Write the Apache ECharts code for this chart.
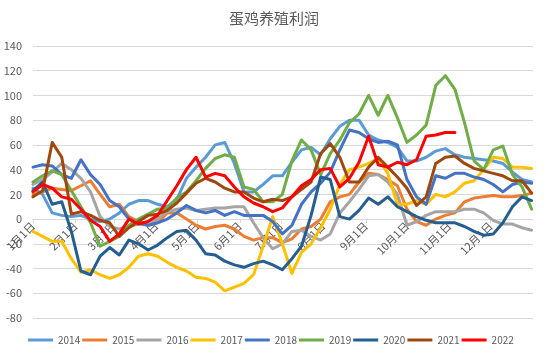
<!DOCTYPE html>
<html><head><meta charset="utf-8">
<script src="https://cdn.jsdelivr.net/npm/echarts@6/dist/echarts.min.js"></script>
<style>html,body{margin:0;padding:0;background:#fff}#c{width:548px;height:356px}</style>
</head><body><div id="c"></div>
<script>
// day-of-year of each weekly observation
const days = [0,7,14,21,28,35,42,49,56,63,70,77,84,91,98,105,112,119,126,133,140,147,154,161,168,175,182,189,196,203,210,217,224,231,238,245,252,259,266,273,280,287,294,301,308,315,322,329,336,343,350,357,364];
const monthDays = [0,31,59,90,120,151,181,212,243,273,304,334];
const monthLabels = ['1月1日','2月1日','3月1日','4月1日','5月1日','6月1日','7月1日','8月1日','9月1日','10月1日','11月1日','12月1日'];
const yTicks = {min:-80, max:140, step:20};
const years = ['2014','2015','2016','2017','2018','2019','2020','2021','2022'];

const y2014 = [25,20,5,3,2,3,0,-2,0,5,12,15,15,12,10,16,33,42,50,60,62,45,22,22,28,35,35,46,56,58,52,65,75,80,80,68,64,62,58,47,47,50,55,57,52,50,49,48,47,45,38,32,30];
const y2015 = [20,22,25,24,23,27,31,20,10,12,2,-2,-5,-3,5,5,0,-5,-8,-6,-5,-8,-14,-17,-15,-15,-19,-16,-8,-6,0,14,18,20,30,37,36,32,27,8,-2,-5,0,3,5,14,17,18,19,18,18,19,21];
const y2016 = [28,32,38,45,40,33,22,2,-6,-8,-6,-4,-5,0,6,8,9,7,8,9,9,10,10,-3,-15,-24,-20,-10,-9,-14,-17,-12,5,14,24,35,36,30,20,-5,-2,3,6,6,6,8,8,5,-1,-4,-4,-7,-9];
const y2017 = [-10,-14,-18,-18,-32,-43,-41,-45,-48,-45,-39,-30,-28,-30,-35,-39,-42,-47,-48,-51,-58,-55,-52,-45,-22,2,-20,-44,-27,-20,-7,8,28,40,42,45,49,37,12,12,15,12,20,18,22,29,31,40,50,49,42,42,41];
const y2018 = [42,44,43,36,33,48,36,28,15,10,0,-3,-5,-3,0,5,11,7,5,7,3,6,3,3,3,-2,-12,-5,12,22,29,38,56,72,70,65,62,63,60,32,18,12,35,33,37,37,34,32,28,22,28,30,29];
const y2019 = [30,35,39,36,23,10,-3,-22,-18,-14,-5,0,4,8,9,17,22,31,41,49,52,50,26,24,14,14,20,47,64,56,36,53,64,78,85,100,84,100,82,62,68,76,108,116,105,78,47,40,56,59,36,26,8];
const y2020 = [23,30,12,14,-10,-42,-45,-30,-23,-29,-17,-20,-25,-21,-15,-10,-9,-17,-28,-29,-34,-37,-39,-36,-34,-37,-41,-32,-22,3,34,32,2,0,7,17,12,18,10,6,2,-1,-3,-3,-3,-6,-10,-13,-12,-3,10,18,15];
const y2021 = [18,23,62,50,4,6,3,-1,-3,-14,-7,-2,3,4,7,13,21,29,33,30,25,22,22,17,14,16,15,18,24,30,53,61,50,30,30,42,50,42,34,25,11,18,45,50,51,45,41,39,37,35,31,31,21];
const y2022 = [22,28,25,18,16,8,-1,-6,-18,-12,0,-4,-2,3,15,27,40,50,34,37,35,26,18,13,10,6,9,18,27,32,40,41,26,33,46,67,44,42,46,44,48,67,68,70,70];

const values = [y2014,y2015,y2016,y2017,y2018,y2019,y2020,y2021,y2022];
const colors = ['#5B9BD5','#ED7D31','#A5A5A5','#FFC000','#4472C4','#70AD47','#255E91','#9E480E','#FF0000'];

const gridTop = 46, gridBottom = 38, H = 356;
const plotH = H - gridTop - gridBottom;
// shift the date axis up so it sits on the zero line
const zeroOffset = -plotH * (0 - yTicks.min) / (yTicks.max - yTicks.min);

const chart = echarts.init(document.getElementById('c'), null, {renderer:'canvas'});
const font = '"Noto Sans CJK SC","Noto Sans",sans-serif';
chart.setOption({
  animation:false,
  backgroundColor:'#fff',
  textStyle:{fontFamily:font},
  title:{text:'蛋鸡养殖利润', left:'center', top:6,
    textStyle:{fontSize:15, fontWeight:'normal', color:'#595959', fontFamily:font}},
  legend:{bottom:6, left:23, icon:'rect', itemWidth:25, itemHeight:3, itemGap:2,
    textStyle:{color:'#595959', fontSize:10, fontFamily:font}, data:years},
  grid:{left:33, right:15, top:gridTop, bottom:gridBottom, containLabel:false},
  xAxis:{type:'value', min:0, max:365, position:'bottom', offset:zeroOffset, z:0,
    axisLine:{onZero:false, lineStyle:{color:'#d9d9d9', width:1}},
    axisTick:{show:true, customValues:monthDays, length:4, lineStyle:{color:'#d9d9d9'}},
    axisLabel:{customValues:monthDays, rotate:45, color:'#595959', fontSize:11, margin:5, fontFamily:font,
      formatter:function(v){const i=monthDays.indexOf(Math.round(v)); return i>=0?monthLabels[i]:'';}},
    splitLine:{show:false}},
  yAxis:{type:'value', min:yTicks.min, max:yTicks.max, interval:yTicks.step,
    axisLine:{show:false}, axisTick:{show:false},
    axisLabel:{color:'#595959', fontSize:11, margin:11, fontFamily:font},
    splitLine:{lineStyle:{color:'#d9d9d9', width:1}}},
  series: years.map((name,si)=>({
    name:name, type:'line', symbol:'none', showSymbol:false, smooth:false, z:3,
    color:colors[si],
    lineStyle:{width:3, color:colors[si], join:'round', cap:'round'},
    data: values[si].map((v,i)=>[days[i], v])
  }))
});
</script></body></html>
